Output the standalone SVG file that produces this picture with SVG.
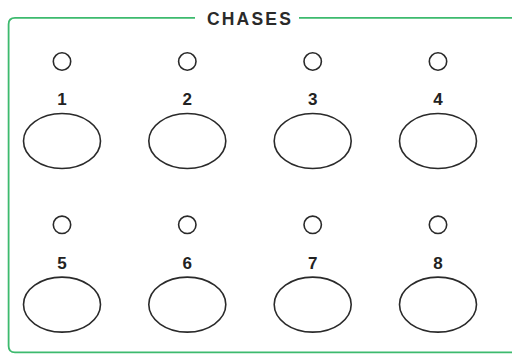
<svg xmlns="http://www.w3.org/2000/svg" width="512" height="354" viewBox="0 0 512 354">
<style>
.frame{fill:none;stroke:#3dba6e;stroke-width:1.8}
.led{fill:none;stroke:#2a2a2a;stroke-width:1.6}
.btn{fill:none;stroke:#2a2a2a;stroke-width:1.6}
.num{font-family:"Liberation Sans",Arial,sans-serif;font-weight:bold;font-size:17px;fill:#222;text-anchor:middle}
.title{font-family:"Liberation Sans",Arial,sans-serif;font-weight:bold;font-size:17.5px;fill:#2a2a2a;text-anchor:middle;letter-spacing:2.2px}
</style>
<rect width="512" height="354" fill="#fff"/>
<g id="frame">
<path class="frame" d="M195 17.8 H15 Q8.6 17.8 8.6 24.2 V346 Q8.6 352.4 15 352.4 H520 M299 17.8 H520"/>
<text class="title" x="250" y="25">CHASES</text>
</g>
<g id="connectors"></g>
<g id="ch1"><circle class="led" cx="62" cy="61.5" r="8.7"/><text class="num" x="62" y="104.5">1</text><ellipse class="btn" cx="62" cy="141" rx="38.5" ry="27.5"/></g>
<g id="ch2"><circle class="led" cx="187.3" cy="61.5" r="8.7"/><text class="num" x="187.3" y="104.5">2</text><ellipse class="btn" cx="187.3" cy="141" rx="38.5" ry="27.5"/></g>
<g id="ch3"><circle class="led" cx="312.7" cy="61.5" r="8.7"/><text class="num" x="312.7" y="104.5">3</text><ellipse class="btn" cx="312.7" cy="141" rx="38.5" ry="27.5"/></g>
<g id="ch4"><circle class="led" cx="438" cy="61.5" r="8.7"/><text class="num" x="438" y="104.5">4</text><ellipse class="btn" cx="438" cy="141" rx="38.5" ry="27.5"/></g>
<g id="ch5"><circle class="led" cx="62" cy="224.8" r="8.7"/><text class="num" x="62" y="268.5">5</text><ellipse class="btn" cx="62" cy="304.6" rx="38.5" ry="27.5"/></g>
<g id="ch6"><circle class="led" cx="187.3" cy="224.8" r="8.7"/><text class="num" x="187.3" y="268.5">6</text><ellipse class="btn" cx="187.3" cy="304.6" rx="38.5" ry="27.5"/></g>
<g id="ch7"><circle class="led" cx="312.7" cy="224.8" r="8.7"/><text class="num" x="312.7" y="268.5">7</text><ellipse class="btn" cx="312.7" cy="304.6" rx="38.5" ry="27.5"/></g>
<g id="ch8"><circle class="led" cx="438" cy="224.8" r="8.7"/><text class="num" x="438" y="268.5">8</text><ellipse class="btn" cx="438" cy="304.6" rx="38.5" ry="27.5"/></g>
</svg>
